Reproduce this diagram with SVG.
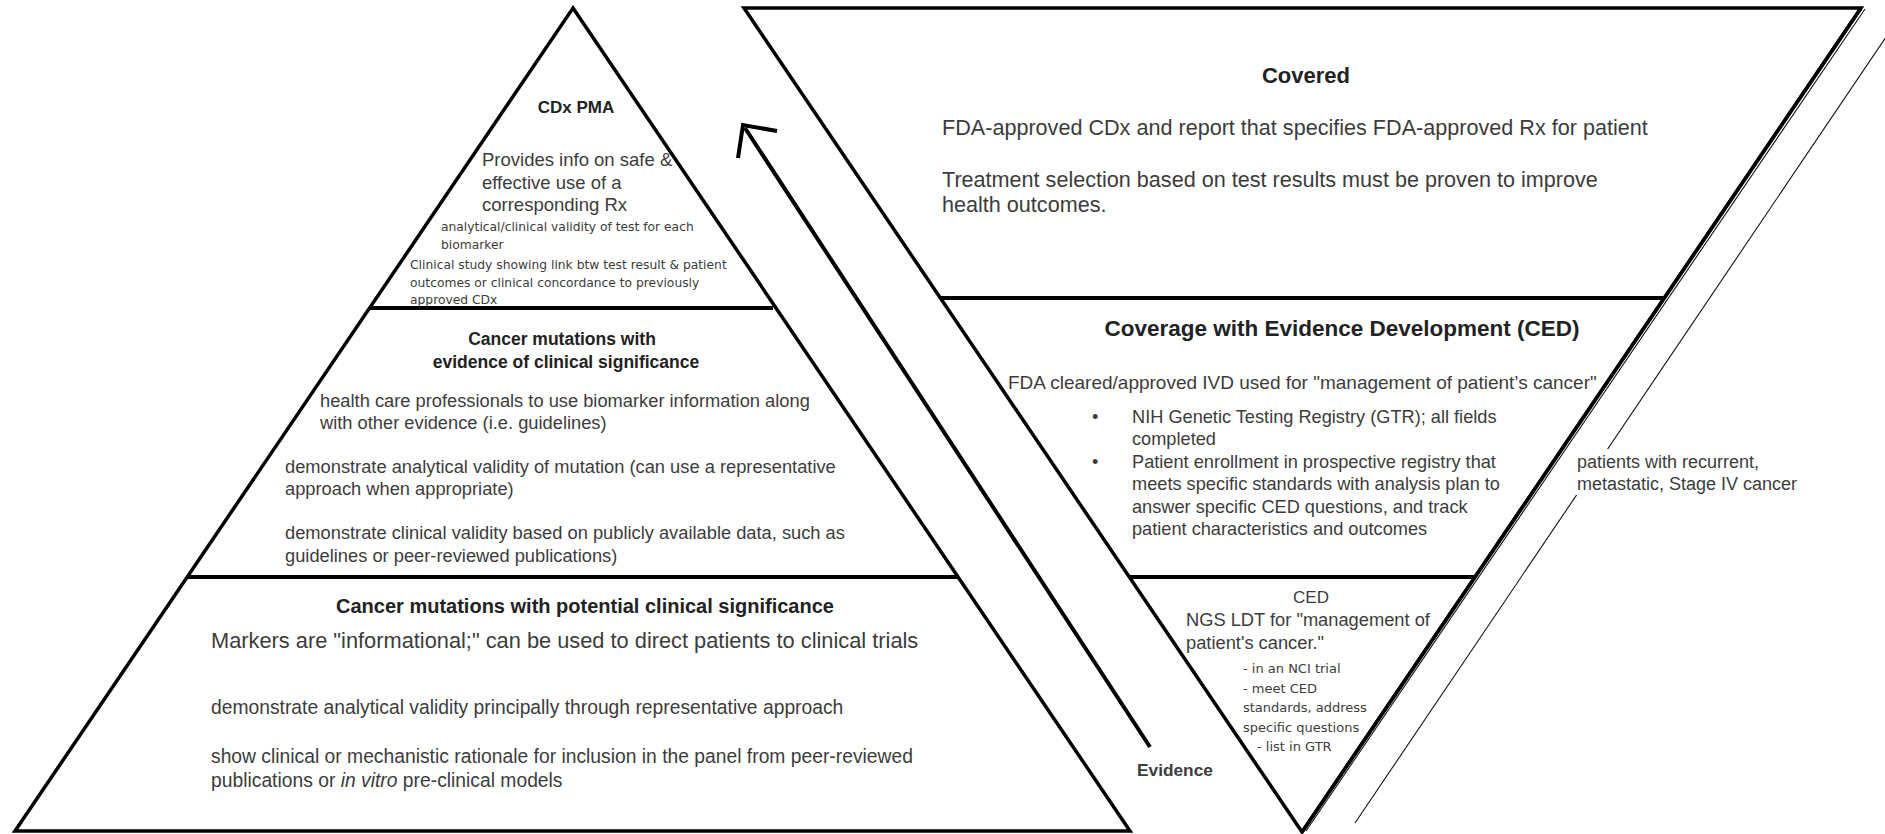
<svg xmlns="http://www.w3.org/2000/svg" width="1885" height="834" viewBox="0 0 1885 834">
<style>
  .bg{fill:#ffffff}
  .edge{fill:none;stroke:#000;stroke-width:3.5;stroke-linejoin:miter}
  .div{stroke:#000;stroke-width:4}
  .thin{stroke:#111;stroke-width:1.1;fill:none}
  .arrow{stroke:#000;stroke-width:4;fill:none;stroke-linecap:butt;stroke-linejoin:miter}
  text{font-family:"Liberation Sans",Arial,sans-serif;fill:#3c3c3c}
  .hb{font-weight:bold;fill:#222;text-anchor:middle}
  .sm{font-family:"DejaVu Sans",Verdana,sans-serif;fill:#3c3c3c}
</style>
<rect class="bg" x="0" y="0" width="1885" height="834"/>

<g id="connectors">
  <line class="thin" x1="1888" y1="34" x2="1355" y2="823"/>
  <line class="thin" x1="1865" y1="9" x2="1306" y2="831" stroke-width="0.9"/>
  <line class="arrow" x1="1150" y1="747" x2="745" y2="128"/>
  <path class="arrow" d="M738,158 L743,125 L777,131"/>
  <text id="evidence-label" x="1137" y="776" font-size="17.3" font-weight="bold" fill="#222">Evidence</text>
</g>

<g id="left-pyramid">
  <polygon class="edge" points="573,8 1130,831 15,831"/>
  <line class="div" x1="369" y1="308" x2="773" y2="308"/>
  <line class="div" x1="187" y1="577" x2="959" y2="577"/>

  <g id="tier-cdx-pma">
    <text class="hb" x="576" y="113" font-size="17">CDx PMA</text>
    <text x="482" y="166" font-size="18.5">Provides info on safe &amp;</text>
    <text x="482" y="189" font-size="18.5">effective use of a</text>
    <text x="482" y="211" font-size="18.5">corresponding Rx</text>
    <text class="sm" x="441" y="231" font-size="12.3">analytical/clinical validity of test for each</text>
    <text class="sm" x="441" y="249" font-size="12.3">biomarker</text>
    <text class="sm" x="410" y="269" font-size="12.3">Clinical study showing link btw test result &amp; patient</text>
    <text class="sm" x="410" y="287" font-size="12.3">outcomes or clinical concordance to previously</text>
    <text class="sm" x="410" y="304" font-size="12.3">approved CDx</text>
  </g>

  <g id="tier-clinical-significance">
    <text class="hb" x="562" y="345" font-size="17.5">Cancer mutations with</text>
    <text class="hb" x="566" y="368" font-size="17.5">evidence of clinical significance</text>
    <text x="320" y="407" font-size="18.3">health care professionals to use biomarker information along</text>
    <text x="320" y="429" font-size="18.3">with other evidence (i.e. guidelines)</text>
    <text x="285" y="473" font-size="18.3">demonstrate analytical validity of mutation (can use a representative</text>
    <text x="285" y="495" font-size="18.3">approach when appropriate)</text>
    <text x="285" y="539" font-size="18.3">demonstrate clinical validity based on publicly available data, such as</text>
    <text x="285" y="562" font-size="18.3">guidelines or peer-reviewed publications)</text>
  </g>

  <g id="tier-potential-significance">
    <text class="hb" x="585" y="613" font-size="20">Cancer mutations with potential clinical significance</text>
    <text x="211" y="648" font-size="21.8">Markers are "informational;" can be used to direct patients to clinical trials</text>
    <text x="211" y="714" font-size="19.3">demonstrate analytical validity principally through representative approach</text>
    <text x="211" y="763" font-size="19.3">show clinical or mechanistic rationale for inclusion in the panel from peer-reviewed</text>
    <text x="211" y="787" font-size="19.3">publications or <tspan font-style="italic">in vitro</tspan> pre-clinical models</text>
  </g>
</g>

<g id="right-funnel">
  <polygon class="edge" points="744,8 1861,8 1302,832"/>
  <line class="edge" x1="1861" y1="8" x2="1302" y2="832" stroke-width="4.5"/>
  <line class="div" x1="940" y1="298" x2="1664" y2="298"/>
  <line class="div" x1="1130" y1="577" x2="1475" y2="577"/>

  <g id="tier-covered">
    <text class="hb" x="1306" y="83" font-size="22">Covered</text>
    <text x="942" y="135" font-size="21.6">FDA-approved CDx and report that specifies FDA-approved Rx for patient</text>
    <text x="942" y="187" font-size="21.6">Treatment selection based on test results must be proven to improve</text>
    <text x="942" y="212" font-size="21.6">health outcomes.</text>
  </g>

  <g id="tier-ced-coverage">
    <text class="hb" x="1342" y="336" font-size="22.5">Coverage with Evidence Development (CED)</text>
    <text x="1008" y="389" font-size="19">FDA cleared/approved IVD used for "management of patient’s cancer"</text>
    <text x="1092" y="423" font-size="18.2">•</text>
    <text x="1132" y="423" font-size="18.2">NIH Genetic Testing Registry (GTR); all fields</text>
    <text x="1132" y="445" font-size="18.2">completed</text>
    <text x="1092" y="468" font-size="18.2">•</text>
    <text x="1132" y="468" font-size="18.2">Patient enrollment in prospective registry that</text>
    <text x="1132" y="490" font-size="18.2">meets specific standards with analysis plan to</text>
    <text x="1132" y="513" font-size="18.2">answer specific CED questions, and track</text>
    <text x="1132" y="535" font-size="18.2">patient characteristics and outcomes</text>
  </g>

  <g id="tier-ced-ngs">
    <text x="1311" y="603" font-size="17" text-anchor="middle" fill="#222">CED</text>
    <text x="1186" y="626" font-size="18.3">NGS LDT for "management of</text>
    <text x="1186" y="649" font-size="18.3">patient's cancer."</text>
    <text class="sm" x="1243" y="673" font-size="13">- in an NCI trial</text>
    <text class="sm" x="1243" y="693" font-size="13">- meet CED</text>
    <text class="sm" x="1243" y="712" font-size="13">standards, address</text>
    <text class="sm" x="1243" y="732" font-size="13">specific questions</text>
    <text class="sm" x="1257" y="751" font-size="13">- list in GTR</text>
  </g>
</g>

<g id="population-note">
  <rect x="1572" y="449" width="190" height="46" fill="#fff"/>
  <text x="1577" y="468" font-size="18">patients with recurrent,</text>
  <text x="1577" y="490" font-size="18">metastatic, Stage IV cancer</text>
</g>
</svg>
